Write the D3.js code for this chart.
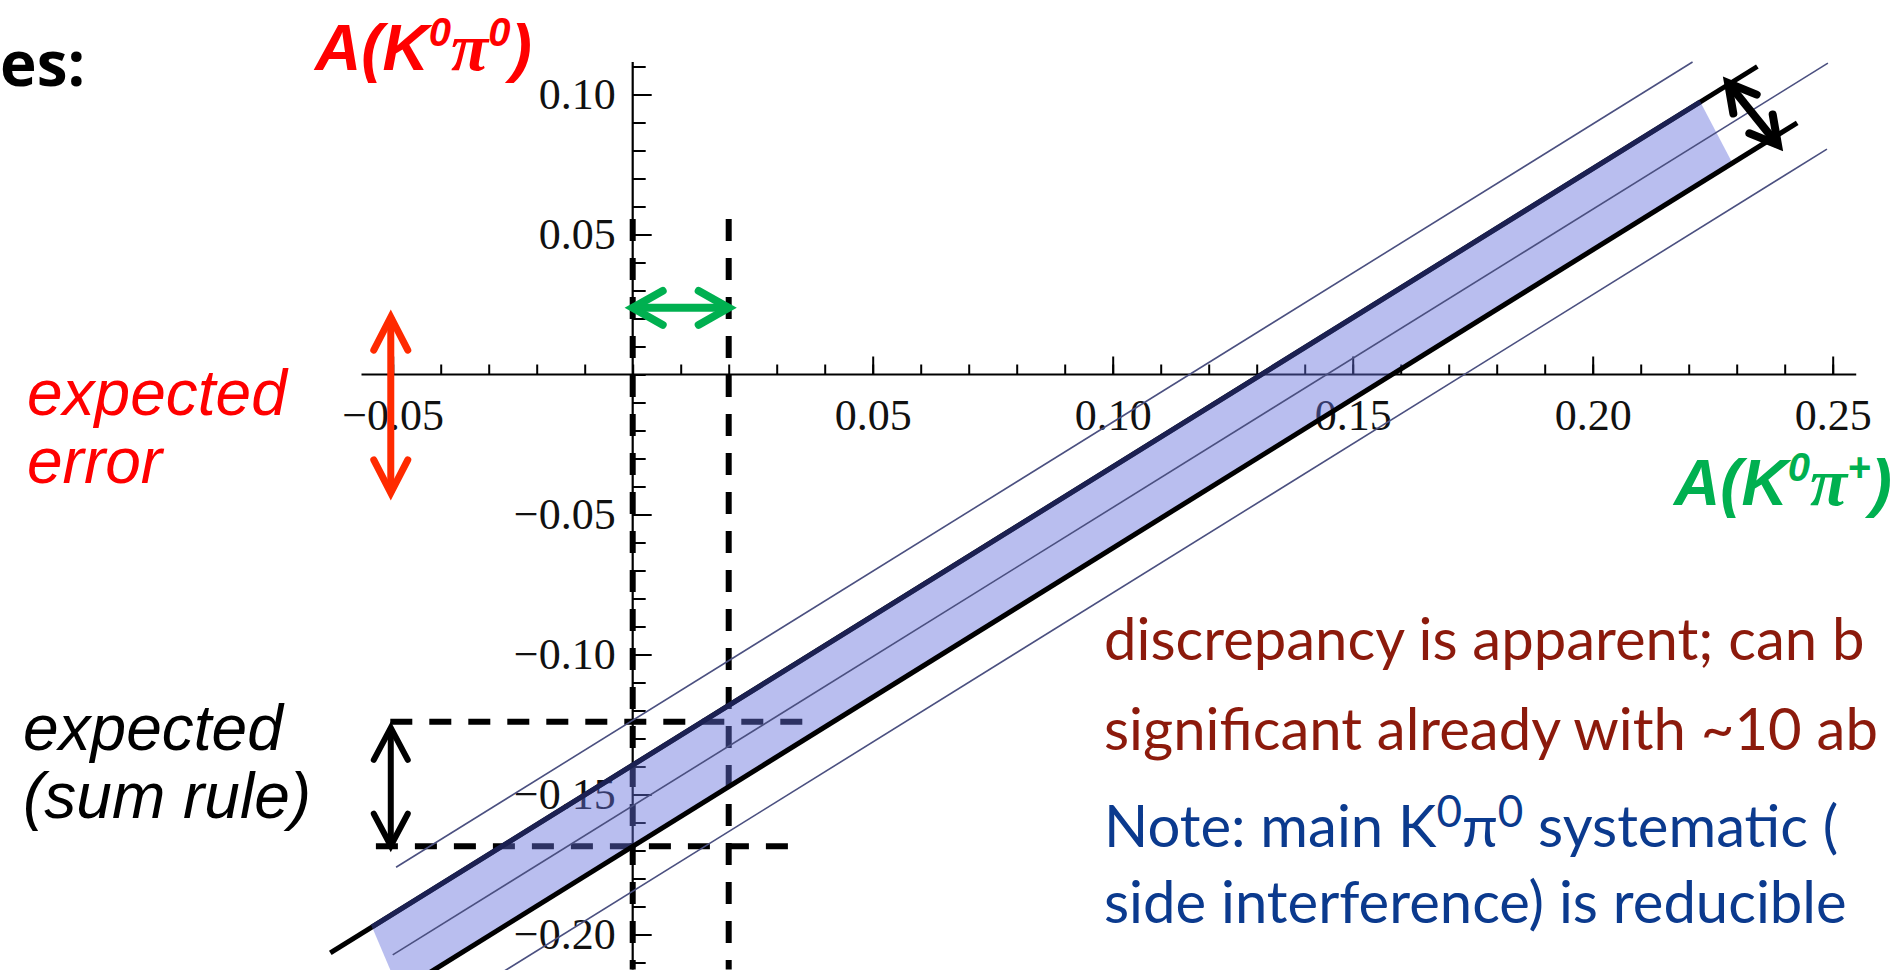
<!DOCTYPE html>
<html>
<head>
<meta charset="utf-8">
<script src="https://cdn.jsdelivr.net/npm/d3@7"></script>
<style>
  html, body { margin: 0; padding: 0; background: #fff; overflow: hidden; }
  svg { display: block; }
</style>
</head>
<body>
<svg id="chart" width="1900" height="970"></svg>
<script>
// ---- axis ticks and labels ----
const xTickLabels = [-0.05, 0.05, 0.10, 0.15, 0.20, 0.25];
const yTickLabels = [0.10, 0.05, -0.05, -0.10, -0.15, -0.20];
const xMinorTicks = d3.range(-5, 26).map(i => i / 100);
const yMinorTicks = d3.range(-21, 12).map(i => i / 100);
const xAxisExtent = [-0.0565, 0.2549];
const yAxisExtent = [0.1116, -0.2125];

// ---- sum-rule band: central value, 1-sigma edges, 2-sigma outer lines ----
const centerLine = [[-0.0500, -0.2073], [0.2490, 0.1112]];
const upperOuter = [[-0.0493, -0.1760], [0.2208, 0.1116]];
const lowerOuter = [[-0.0300, -0.2165], [0.2488, 0.0805]];
const upperEdge  = [[-0.0630, -0.2066], [0.2343, 0.1100]];
const lowerEdge  = [[-0.0500, -0.2218], [0.2426, 0.0899]];
const bandFill   = [[-0.0543, -0.1973], [0.2224, 0.0974], [0.2291, 0.0755], [-0.0486, -0.2203]];

// ---- guide lines ----
const guideAtZero   = [[0.00, 0.0555], [0.00, -0.2125]];
const guideAtTwo    = [[0.02, 0.0555], [0.02, -0.2125]];
const guideUpperSum = [[-0.0505, -0.1240], [0.0357, -0.1240]];
const guideLowerSum = [[-0.0535, -0.1685], [0.0326, -0.1685]];

// ---- annotation arrows ----
const errorArrow  = [[-0.0504, 0.0205], [-0.0504, -0.0423]];
const rangeArrow  = [[0.0000, 0.0238], [0.0200, 0.0238]];
const sumArrow    = [[-0.0504, -0.1262], [-0.0504, -0.1683]];
const widthArrow  = [[0.2282, 0.1041], [0.2386, 0.0820]];

const svg = d3.select("#chart");
svg.append("rect").attr("width", 1900).attr("height", 970).attr("fill", "#fff");

const x = d3.scaleLinear().domain([-0.05, 0.25]).range([392.7, 1832.7]);
const y = d3.scaleLinear().domain([0.10, -0.20]).range([94.5, 934.5]);
const fmt = d3.format(".2f");
const line = d3.line().x(d => x(d[0])).y(d => y(d[1]));

// ---- axes ----
const axes = svg.append("g");

const xg = axes.append("g").attr("transform", `translate(0,${y(0)})`);
xg.append("line")
  .attr("x1", x(xAxisExtent[0])).attr("x2", x(xAxisExtent[1]))
  .attr("stroke", "#000").attr("stroke-width", 2.2);
xg.append("g")
  .call(d3.axisBottom(x).tickValues(xMinorTicks).tickSizeInner(-10).tickSizeOuter(0).tickFormat(""))
  .call(g => g.select(".domain").remove());
xg.append("g")
  .call(d3.axisBottom(x).tickValues(xTickLabels).tickSizeInner(-18).tickSizeOuter(0)
        .tickPadding(24).tickFormat(fmt))
  .call(g => g.select(".domain").remove());

const yg = axes.append("g").attr("transform", `translate(${x(0)},0)`);
yg.append("line")
  .attr("y1", y(yAxisExtent[0])).attr("y2", y(yAxisExtent[1]))
  .attr("stroke", "#000").attr("stroke-width", 2.2);
yg.append("g")
  .call(d3.axisLeft(y).tickValues(yMinorTicks).tickSizeInner(-13).tickSizeOuter(0).tickFormat(""))
  .call(g => g.select(".domain").remove());
yg.append("g")
  .call(d3.axisLeft(y).tickValues(yTickLabels).tickSizeInner(-19).tickSizeOuter(0)
        .tickPadding(17).tickFormat(fmt))
  .call(g => g.select(".domain").remove());

axes.selectAll(".tick line").attr("stroke", "#000").attr("stroke-width", 2);
axes.selectAll(".tick text")
  .attr("font-family", "'Liberation Serif', 'Times New Roman', serif")
  .attr("font-size", 44)
  .attr("fill", "#111");

// ---- dashed guides ----
const dash = svg.append("g")
  .attr("fill", "none").attr("stroke", "#000")
  .attr("stroke-width", 6).attr("stroke-dasharray", "22 17");
[guideAtZero, guideAtTwo, guideUpperSum, guideLowerSum].forEach(p =>
  dash.append("path").attr("d", line(p)));

// ---- band ----
const band = svg.append("g").attr("fill", "none");
band.append("path").attr("d", line(upperEdge)).attr("stroke", "#000").attr("stroke-width", 5);
band.append("path")
  .attr("d", line(bandFill) + "Z")
  .attr("fill", "rgb(100,110,220)").attr("fill-opacity", 0.45).attr("stroke", "none");
band.append("path")
  .attr("d", line([bandFill[0], bandFill[1]]))
  .attr("stroke", "#1c2152").attr("stroke-width", 5);
[upperOuter, centerLine, lowerOuter].forEach(p =>
  band.append("path").attr("d", line(p)).attr("stroke", "#4b5080").attr("stroke-width", 1.6));
band.append("path").attr("d", line(lowerEdge)).attr("stroke", "#000").attr("stroke-width", 5);

// ---- double-headed arrows ----
function doubleArrow(pts, color, width, headLen, headHalf) {
  const [a, b] = pts.map(p => [x(p[0]), y(p[1])]);
  const g = svg.append("g").attr("fill", "none").attr("stroke", color)
    .attr("stroke-width", width).attr("stroke-linecap", "round").attr("stroke-linejoin", "miter");
  g.append("line").attr("x1", a[0]).attr("y1", a[1]).attr("x2", b[0]).attr("y2", b[1])
    .attr("stroke-linecap", "butt");
  const dx = b[0] - a[0], dy = b[1] - a[1], L = Math.hypot(dx, dy);
  const ux = dx / L, uy = dy / L, nx = -uy, ny = ux;
  [[a, 1], [b, -1]].forEach(([t, s]) => {
    const bx = t[0] + s * ux * headLen, by = t[1] + s * uy * headLen;
    g.append("path").attr("d",
      `M${bx + nx * headHalf},${by + ny * headHalf}L${t[0]},${t[1]}L${bx - nx * headHalf},${by - ny * headHalf}`);
  });
}
doubleArrow(errorArrow, "#ff2a00", 7, 33, 17);
doubleArrow(rangeArrow, "#00b050", 8, 30, 17);
doubleArrow(sumArrow, "#000", 6, 32, 17);
doubleArrow(widthArrow, "#000", 8, 27, 15);

// ---- labels ----
const sans = "'Liberation Sans', Arial, Helvetica, sans-serif";
const serif = "'Liberation Serif', 'Times New Roman', serif";

function asymLabel(px, py, color, last) {
  const t = svg.append("text").attr("x", px).attr("y", py)
    .attr("font-family", sans).attr("font-weight", "bold").attr("font-style", "italic")
    .attr("font-size", 64).attr("fill", color);
  t.append("tspan").text("A(K");
  t.append("tspan").attr("font-size", 40).attr("dy", -24).text("0");
  t.append("tspan").attr("dy", 24).attr("font-family", serif).attr("font-size", 68).text("π");
  t.append("tspan").attr("font-size", 40).attr("dy", -24).text(last);
  t.append("tspan").attr("dy", 24).text(")");
}
asymLabel(315, 70, "#ff0000", "0");
asymLabel(1674, 505, "#00b050", "+");

function italicBlock(px, lines, baselines, color) {
  lines.forEach((s, i) => svg.append("text")
    .attr("x", px).attr("y", baselines[i])
    .attr("font-family", sans).attr("font-style", "italic")
    .attr("font-size", 64).attr("fill", color).text(s));
}
italicBlock(27, ["expected", "error"], [415, 483], "#ff0000");
italicBlock(23, ["expected", "(sum rule)"], [750, 818], "#000");

svg.append("text").attr("x", 0).attr("y", 86)
  .attr("font-family", "'Open Sans', sans-serif").attr("font-weight", "bold")
  .attr("font-size", 62).attr("fill", "#000").text("es:");

// ---- commentary ----
const body = "Lato, 'Open Sans', sans-serif";
function note(py, color, parts) {
  const t = svg.append("text").attr("x", 1104).attr("y", py)
    .attr("font-family", body).attr("font-size", 58).attr("fill", color);
  parts.forEach(p => {
    const s = t.append("tspan").text(p.s);
    if (p.dy) s.attr("dy", p.dy);
    if (p.fs) s.attr("font-size", p.fs);
  });
}
note(660, "#8c1a0c", [{ s: "discrepancy is apparent; can b" }]);
note(750, "#8c1a0c", [{ s: "significant already with ~10 ab" }]);
note(847, "#0b3a8e", [
  { s: "Note: main K" }, { s: "0", fs: 44, dy: -20 }, { s: "π", dy: 20 },
  { s: "0", fs: 44, dy: -20 }, { s: " systematic (", dy: 20 }]);
note(923, "#0b3a8e", [{ s: "side interference) is reducible" }]);
</script>
</body>
</html>
